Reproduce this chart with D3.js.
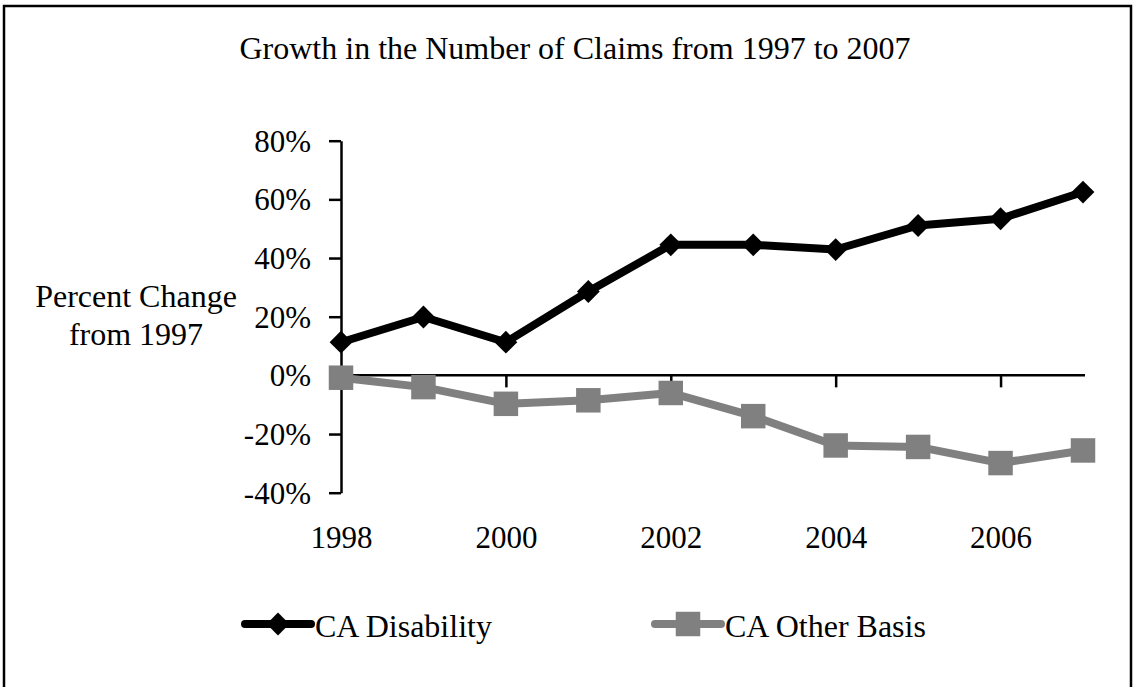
<!DOCTYPE html>
<html lang="en">
  <head>
    <meta charset="utf-8" />
    <title>Growth in the Number of Claims</title>
    <script src="https://d3js.org/d3.v7.min.js"></script>
    <style type="text/css">
      body {
        margin: 0;
        background: white;
      }
      svg text {
        font-family: "Liberation Serif", "Times New Roman", serif;
        fill: black;
      }
    </style>
  </head>
  <body>
    <script type="text/javascript">
      // Data
      var years = [1998, 1999, 2000, 2001, 2002, 2003, 2004, 2005, 2006, 2007];
      var disability = [11.3, 19.9, 11.3, 28.6, 44.5, 44.5, 42.9, 51.1, 53.4, 62.5];
      var otherBasis = [-0.8, -4.0, -9.7, -8.5, -6.0, -13.9, -23.9, -24.4, -29.9, -25.6];
      var yTicks = [-40, -20, 0, 20, 40, 60, 80];
      var xLabelYears = [1998, 2000, 2002, 2004, 2006];
      var xTickYears = [2000, 2002, 2004, 2006];
      var seriesNames = ["CA Disability", "CA Other Basis"];

      var w = 1134;
      var h = 687;

      var svg = d3
        .select("body")
        .append("svg")
        .attr("width", w)
        .attr("height", h);

      // chart frame
      svg
        .append("rect")
        .attr("x", 4)
        .attr("y", 6)
        .attr("width", 1127)
        .attr("height", 700)
        .attr("fill", "white")
        .attr("stroke", "black")
        .attr("stroke-width", 2.5);

      var xScale = d3.scalePoint().domain(years).range([341, 1083]);
      var yScale = d3.scaleLinear().domain([-40, 80]).range([492.7, 140.7]);

      // title
      svg
        .append("text")
        .attr("x", 575)
        .attr("y", 59)
        .attr("text-anchor", "middle")
        .style("font-size", "32px")
        .text("Growth in the Number of Claims from 1997 to 2007");

      // y axis title
      var yTitle = svg
        .append("text")
        .attr("text-anchor", "middle")
        .style("font-size", "32px");
      yTitle.append("tspan").attr("x", 136).attr("y", 307).text("Percent Change");
      yTitle.append("tspan").attr("x", 136).attr("y", 345).text("from 1997");

      // y axis
      var yAxis = svg
        .append("g")
        .attr("class", "y axis")
        .attr("transform", "translate(" + xScale(1998) + ",0)")
        .call(
          d3
            .axisLeft(yScale)
            .tickValues(yTicks)
            .tickFormat(function (d) {
              return d + "%";
            })
            .tickSizeInner(12)
            .tickSizeOuter(0)
            .tickPadding(18)
        );

      // x axis line at zero with tick marks
      var xAxis = svg
        .append("g")
        .attr("class", "x axis")
        .attr("transform", "translate(0," + yScale(0) + ")")
        .call(
          d3
            .axisBottom(xScale)
            .tickValues(xTickYears)
            .tickFormat("")
            .tickSizeInner(12)
            .tickSizeOuter(0)
        );
      xAxis.select(".domain").attr("d", "M" + xScale(1998) + ",0H" + (xScale(2007) + 2));

      // x labels at bottom of plot area
      var xLabels = svg
        .append("g")
        .attr("class", "x labels")
        .attr("transform", "translate(0," + yScale(-40) + ")")
        .call(d3.axisBottom(xScale).tickValues(xLabelYears).tickSize(0).tickPadding(33));
      xLabels.select(".domain").remove();

      svg
        .selectAll(".axis path, .axis line")
        .attr("stroke", "black")
        .attr("stroke-width", 2.5);
      svg
        .selectAll(".axis text, .labels text")
        .attr("font-family", null)
        .attr("font-size", null)
        .style("font-size", "31px");
      yAxis.selectAll("text").attr("dy", "0.34em");

      // lines
      var line = d3
        .line()
        .x(function (d, i) {
          return xScale(years[i]);
        })
        .y(function (d) {
          return yScale(d);
        });

      var diamond = d3.symbol(d3.symbolSquare, 260);
      var square = d3.symbol(d3.symbolSquare, 600);

      function drawSeries(values, color, symbolGen, rotate) {
        svg
          .append("path")
          .datum(values)
          .attr("d", line)
          .attr("fill", "none")
          .attr("stroke", color)
          .attr("stroke-width", 8)
          .attr("stroke-linejoin", "round");
        svg
          .append("g")
          .selectAll("path")
          .data(values)
          .enter()
          .append("path")
          .attr("d", symbolGen)
          .attr("fill", color)
          .attr("transform", function (d, i) {
            return (
              "translate(" + xScale(years[i]) + "," + yScale(d) + ") rotate(" + rotate + ")"
            );
          });
      }

      drawSeries(otherBasis, "#808080", square, 0);
      drawSeries(disability, "black", diamond, 45);

      // legend
      var legendItems = [
        { name: seriesNames[0], color: "black", symbol: diamond, rotate: 45, x: 245 },
        { name: seriesNames[1], color: "#808080", symbol: square, rotate: 0, x: 655 }
      ];
      var legend = svg
        .selectAll(".legend")
        .data(legendItems)
        .enter()
        .append("g")
        .attr("class", "legend")
        .attr("transform", function (d) {
          return "translate(" + d.x + ",624)";
        });
      legend
        .append("line")
        .attr("x1", 0)
        .attr("x2", 66)
        .attr("stroke", function (d) {
          return d.color;
        })
        .attr("stroke-width", 8)
        .attr("stroke-linecap", "round");
      legend
        .append("path")
        .attr("d", function (d) {
          return d.symbol();
        })
        .attr("fill", function (d) {
          return d.color;
        })
        .attr("transform", function (d) {
          return "translate(33,0) rotate(" + d.rotate + ")";
        });
      legend
        .append("text")
        .attr("x", 70)
        .attr("y", 13)
        .style("font-size", "32px")
        .text(function (d) {
          return d.name;
        });
    </script>
  </body>
</html>
